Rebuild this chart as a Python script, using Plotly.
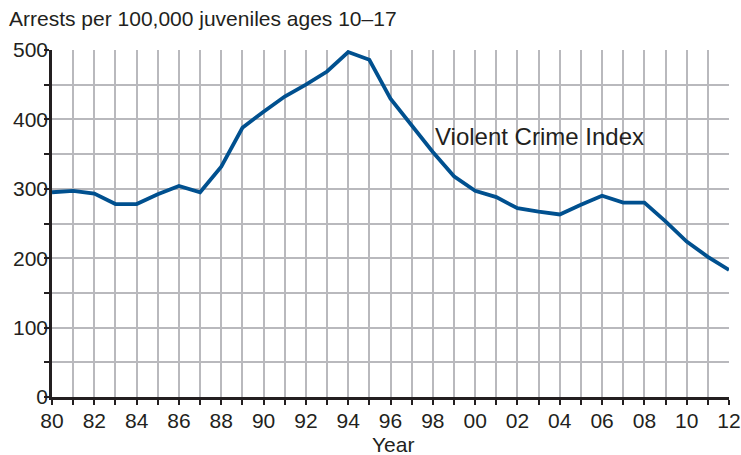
import plotly.graph_objects as go

years = list(range(1980, 2013))
violent_crime_index = [295, 297, 293, 278, 278, 292, 304, 295, 332, 388,
                       411, 433, 450, 469, 497, 486, 430, 392, 353, 318,
                       297, 288, 272, 267, 263, 277, 290, 280, 280, 253,
                       224, 202, 183]
x_tick_vals = list(range(1980, 2013))
x_tick_text = [f"{y % 100:02d}" if y % 2 == 0 else "" for y in x_tick_vals]
y_tick_vals = list(range(0, 501, 50))
y_tick_text = [str(v) if v % 100 == 0 else "" for v in y_tick_vals]

font_family = "Liberation Sans, Arial, Helvetica, sans-serif"
text_color = "#231f20"
grid_color = "#b9b9bd"

fig = go.Figure()
fig.add_trace(go.Scatter(
    x=years, y=violent_crime_index, mode="lines",
    line=dict(color="#00508f", width=3.8),
    hoverinfo="x+y", showlegend=False,
))

fig.update_layout(
    width=741, height=455,
    margin=dict(l=52, r=12, t=50, b=58),
    paper_bgcolor="white", plot_bgcolor="white",
    font=dict(family=font_family, size=21, color=text_color),
    xaxis=dict(
        range=[1980, 2012], tickmode="array", tickvals=x_tick_vals, ticktext=x_tick_text,
        showgrid=True, gridcolor=grid_color, gridwidth=2,
        showline=True, linecolor="#231f20", linewidth=2.5,
        ticks="outside", ticklen=5, tickwidth=1.5, tickcolor="#231f20",
        tickfont=dict(size=21, color=text_color), ticklabelstandoff=-2,
        zeroline=False, fixedrange=True, automargin=False,
    ),
    yaxis=dict(
        range=[0, 500], tickmode="array", tickvals=y_tick_vals, ticktext=y_tick_text,
        showgrid=True, gridcolor=grid_color, gridwidth=2,
        showline=True, linecolor="#231f20", linewidth=2.5,
        ticks="outside", ticklen=5, tickwidth=1.5, tickcolor="#231f20",
        tickfont=dict(size=21, color=text_color), ticklabelstandoff=-8,
        zeroline=False, fixedrange=True, automargin=False,
    ),
    annotations=[
        dict(text="Arrests per 100,000 juveniles ages 10\u201317", xref="paper", yref="paper",
             x=-0.0665, y=1.092, xanchor="left", yanchor="middle", showarrow=False,
             font=dict(size=21, color=text_color)),
        dict(text="Violent Crime Index", xref="x", yref="y", x=1998.0, y=375,
             xanchor="left", yanchor="middle", showarrow=False,
             font=dict(size=24, color=text_color)),
        dict(text="Year", xref="paper", yref="paper", x=0.504, y=-0.137,
             xanchor="center", yanchor="middle", showarrow=False,
             font=dict(size=21, color=text_color)),
    ],
)

fig.write_html(
    "out.html",
    config={"displayModeBar": False},
    post_script="document.body.style.margin='0';document.body.style.overflow='hidden';",
)
